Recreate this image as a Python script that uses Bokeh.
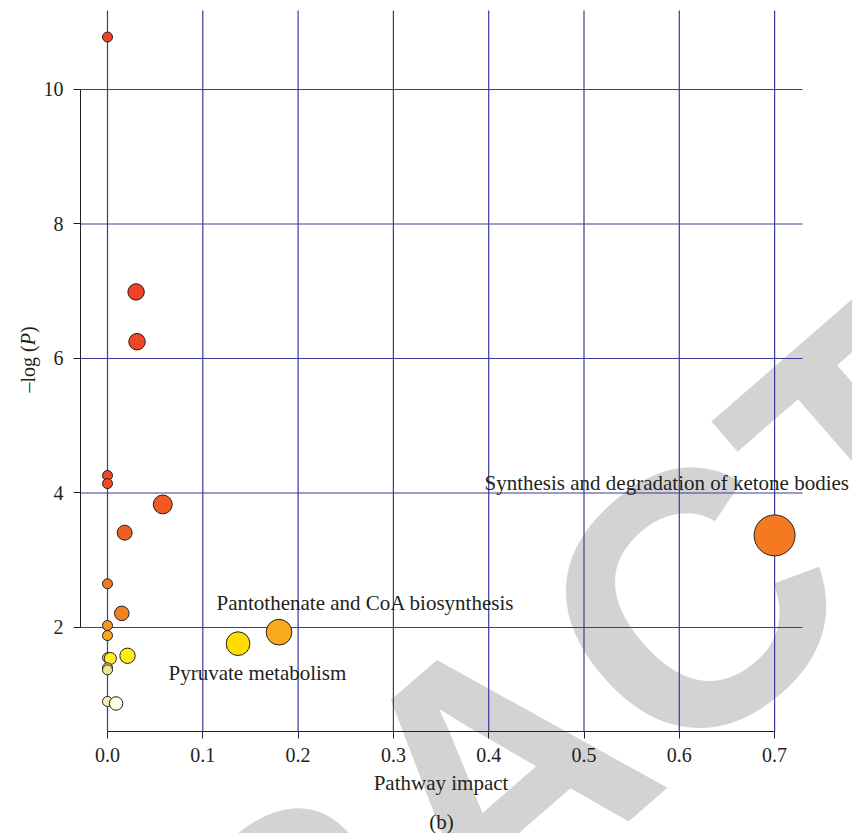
from bokeh.plotting import figure
from bokeh.models import (ColumnDataSource, Range1d, FixedTicker, PrintfTickFormatter,
                          Label)
from bokeh.embed import file_html
from bokeh.resources import INLINE
import numpy as np

# Pathway analysis: impact vs. -log(P)
impact = [0.0, 0.030, 0.031, 0.0, 0.0, 0.058, 0.018, 0.0, 0.015, 0.0, 0.0,
          0.0, 0.003, 0.021, 0.0, 0.0, 0.0, 0.009, 0.137, 0.180, 0.700]
neglogp = [10.78, 6.99, 6.25, 4.26, 4.14, 3.83, 3.41, 2.65, 2.21, 2.03, 1.88,
           1.55, 1.54, 1.58, 1.40, 1.37, 0.90, 0.87, 1.76, 1.93, 3.37]
colors = ["#ef4323", "#ef4323", "#ef4623", "#ef4a22", "#ef4b22", "#f15a22", "#f15e22",
          "#f37a21", "#f38021", "#f7941d", "#f9a81a", "#e9dc3e", "#ffee22", "#ffee11",
          "#eee38a", "#f0e690", "#f8f1b8", "#fffbe0", "#ffdd00", "#f9aa1f", "#f47920"]

x_ticks = [0.0, 0.1, 0.2, 0.3, 0.4, 0.5, 0.6, 0.7]
y_ticks = [2, 4, 6, 8, 10]

labels = ["Synthesis and degradation of ketone bodies",
          "Pantothenate and CoA biosynthesis",
          "Pyruvate metabolism"]
label_x = [0.3956, 0.1144, 0.064]
label_y = [4.155, 2.371, 1.316]

TEXT = "#231f20"
GRID = "#3a3a9c"
SERIF = "Liberation Serif"
W, H = 852, 833

# plotting box (data units): where the axes sit and how far the grid reaches
X_LO, X_HI = -0.0283, 0.7293
Y_LO, Y_HI = 0.4535, 11.175

# bubble diameter grows with pathway impact
diam = [10 + 37 * np.sqrt(v) for v in impact]
src = ColumnDataSource(dict(x=impact, y=neglogp, c=colors, s=diam))

# the frame fills the canvas; axes are pinned inside it
p = figure(width=W, height=H, output_backend="svg", toolbar_location=None,
           x_range=Range1d(-0.11228, 0.78174), y_range=Range1d(-1.0632, 11.3234),
           min_border=0)
p.outline_line_color = None
p.background_fill_color = "white"
p.border_fill_color = "white"
p.xgrid.visible = False
p.ygrid.visible = False


def screen_label(text, sx, sy_top, **kw):
    """Label placed in canvas pixels measured from the top-left corner."""
    opts = dict(text_font=SERIF, text_font_size="21px", text_color=TEXT,
                text_align="left", text_baseline="alphabetic")
    opts.update(kw)
    return Label(x=sx, y=H - sy_top, x_units="screen", y_units="screen", text=text, **opts)


# watermark underneath the grid
p.add_layout(screen_label("RETRACTED", 494, 772, angle=np.radians(41),
                          text_font="Liberation Sans", text_font_style="bold",
                          text_font_size="360px", text_color="#d3d3d3",
                          text_align="center", level="underlay"))

# grid lines at the tick positions, limited to the plotting box
p.segment(x0=x_ticks, y0=[Y_LO] * len(x_ticks), x1=x_ticks, y1=[Y_HI] * len(x_ticks),
          line_color=GRID, line_width=1.2)
p.segment(x0=[X_LO] * len(y_ticks), y0=y_ticks, x1=[X_HI] * len(y_ticks), y1=y_ticks,
          line_color=GRID, line_width=1.2)

p.xaxis.fixed_location = Y_LO
p.yaxis.fixed_location = X_LO
for ax, ticks, bounds in ((p.xaxis[0], x_ticks, (0, 0.7)), (p.yaxis[0], y_ticks, (2, 10))):
    ax.ticker = FixedTicker(ticks=ticks)
    ax.bounds = bounds
    ax.axis_line_color = TEXT
    ax.axis_line_width = 1
    ax.major_tick_line_color = TEXT
    ax.major_tick_out = 7
    ax.major_tick_in = 0
    ax.minor_tick_line_color = None
    ax.major_label_text_font = SERIF
    ax.major_label_text_font_size = "20px"
    ax.major_label_text_color = TEXT

p.xaxis.formatter = PrintfTickFormatter(format="%.1f")
p.xaxis.major_label_standoff = 9
p.yaxis.major_label_standoff = 10
p.xaxis.axis_label = "Pathway impact"
p.xaxis.axis_label_text_font = SERIF
p.xaxis.axis_label_text_font_size = "21px"
p.xaxis.axis_label_text_font_style = "normal"
p.xaxis.axis_label_text_color = TEXT
p.xaxis.axis_label_standoff = 6

p.scatter("x", "y", source=src, size="s", fill_color="c", line_color=TEXT,
          line_width=1)

# pathway names
for t, lx, ly in zip(labels, label_x, label_y):
    p.add_layout(Label(x=lx, y=ly, text=t, text_font=SERIF, text_font_size="21px",
                       text_color=TEXT, text_align="left", text_baseline="alphabetic"))

# y-axis title: –log (P) with italic P
for t, sy, style in (("–log (", 392, "normal"), ("P", 344.8, "italic"), (")", 332.6, "normal")):
    p.add_layout(screen_label(t, 27, sy, angle=np.pi / 2, text_font_size="20px",
                              text_font_style=style))

p.add_layout(screen_label("(b)", 441, 821, text_align="center"))

open("out.html", "w").write(file_html(p, INLINE))
